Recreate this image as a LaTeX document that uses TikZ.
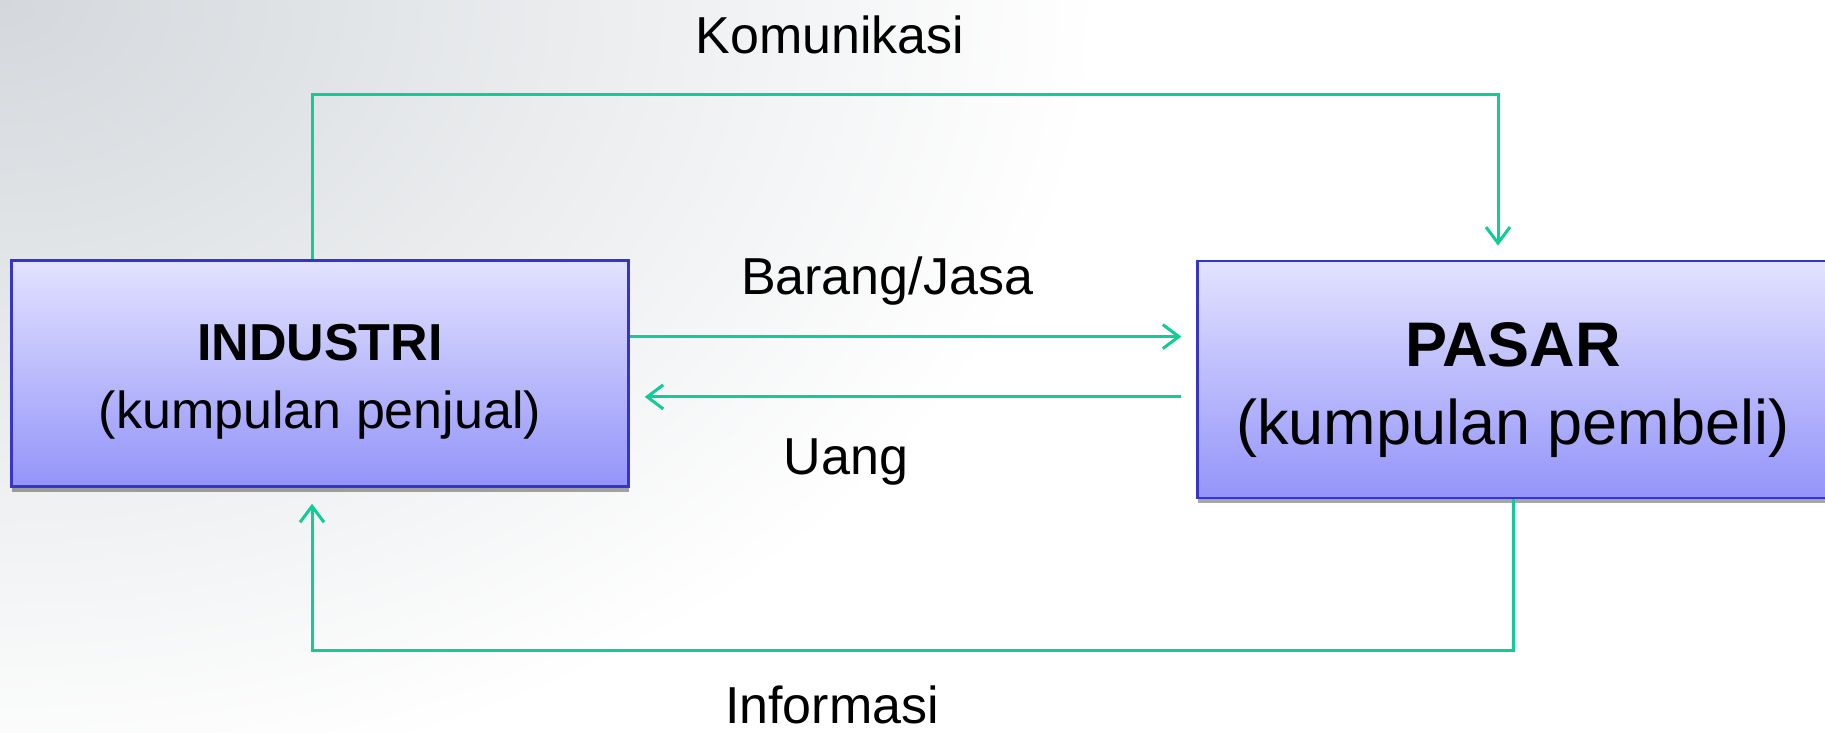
\documentclass[tikz,border=0pt]{standalone}
\usepackage{fontspec}
\setmainfont{Liberation Sans}
\usepackage{tikz}
\usetikzlibrary{arrows.meta,shadows}
\definecolor{flowgreen}{HTML}{10CC96}
\definecolor{boxedge}{HTML}{3535CC}
\definecolor{boxtop}{HTML}{E2E2FF}
\definecolor{boxbottom}{HTML}{9494FA}
\definecolor{backgrey}{HTML}{D4D8DC}

\begin{document}
\begin{tikzpicture}[x=0.5pt,y=-0.5pt,
  every node/.style={font=\fontsize{26}{34}\selectfont},
  party/.style={draw=boxedge,line width=1.2pt,top color=boxtop,bottom color=boxbottom,
    align=center,inner sep=0pt,
    drop shadow={shadow xshift=0pt,shadow yshift=-2.5pt,opacity=0.35,fill=black}},
  flow/.style={draw=flowgreen,line width=1.5pt,-{Straight Barb[length=8pt,width=12pt]}}]
  % background
  \useasboundingbox (0,0) rectangle (1825,733);
  \fill[white] (0,0) rectangle (1825,733);
  \shade[inner color=backgrey,outer color=white] (0,0) ellipse [x radius=1100,y radius=800];
  % the two parties
  \node[party,minimum width=308.5pt,minimum height=113pt] (industri) at (320,373.6)
    {\rule{0pt}{26.6pt}\textbf{INDUSTRI}\\(kumpulan penjual)};
  \node[party,minimum width=315.5pt,minimum height=118.75pt,font=\fontsize{31.5}{39}\selectfont]
    (pasar) at (1513,379.5) {\rule{0pt}{32.5pt}\textbf{PASAR}\\(kumpulan pembeli)};
  % flows
  \draw[flow,shorten >=7pt] ([xshift=-4pt]industri.north) -- ++(0,-165.3) -| ([xshift=-7.5pt]pasar.north);
  \draw[flow,shorten >=7.5pt] ([yshift=18.5pt]industri.east) -- ([yshift=18.5pt]industri.east -| pasar.west);
  \draw[flow,shorten <=7.5pt,shorten >=7.5pt] ([yshift=-11.65pt]industri.east -| pasar.west) -- ([yshift=-11.65pt]industri.east);
  \draw[flow,shorten >=8pt] (pasar.south) -- ++(0,151.3) -| ([xshift=-4pt]industri.south);
  % labels
  \node[anchor=base] (komunikasi) at (830,53.5) {Komunikasi};
  \node[anchor=base] (barang) at (887,294.6) {Barang/Jasa};
  \node[anchor=base] (uang) at (846,474.6) {Uang};
  \node[anchor=base] (informasi) at (832,723) {Informasi};
\end{tikzpicture}
\end{document}
